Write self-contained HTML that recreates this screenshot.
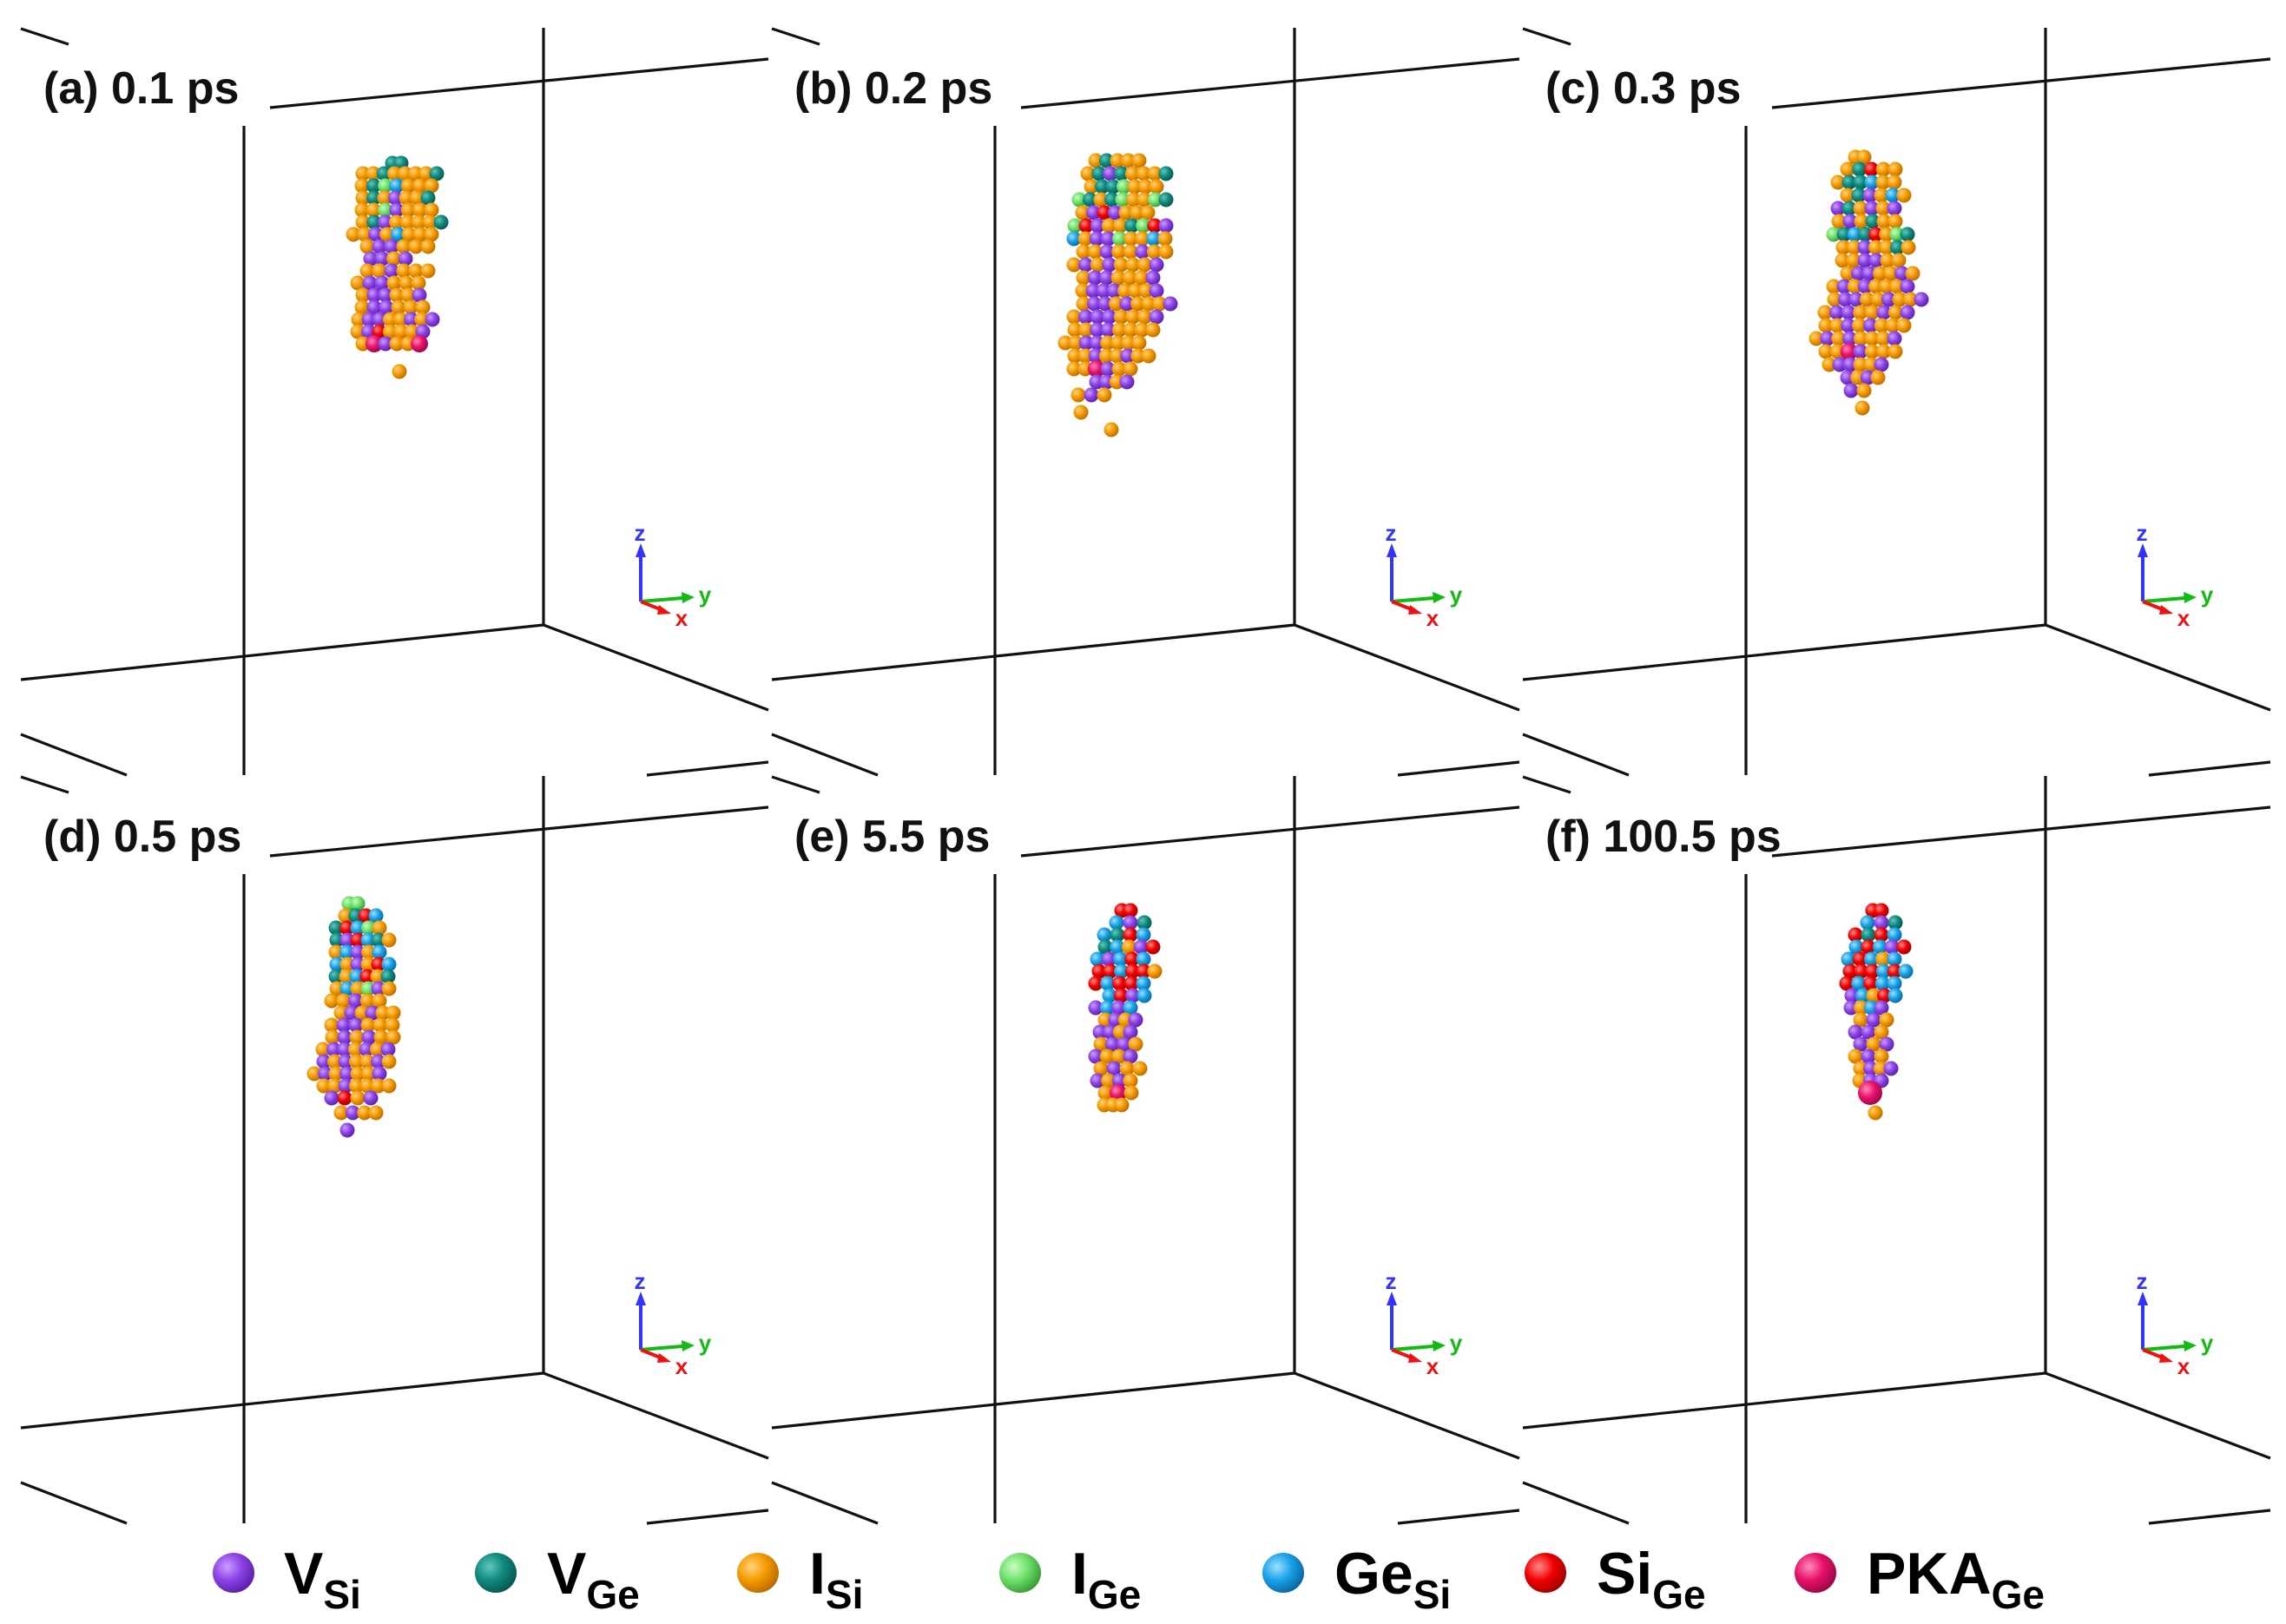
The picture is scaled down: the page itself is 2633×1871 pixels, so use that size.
<!DOCTYPE html>
<html><head><meta charset="utf-8"><style>
html,body{margin:0;padding:0;background:#fff;}
svg{display:block;font-family:"Liberation Sans",Arial,sans-serif;}
</style></head><body>
<svg id="fig" width="2633" height="1871" viewBox="0 0 2633 1871" xmlns="http://www.w3.org/2000/svg">
<defs>
<radialGradient id="gP" cx="35%" cy="35%" r="70%"><stop offset="0" stop-color="#c9a0ff"/><stop offset="0.5" stop-color="#8d42e6"/><stop offset="1" stop-color="#5a1fa8"/></radialGradient>
<radialGradient id="gT" cx="35%" cy="35%" r="70%"><stop offset="0" stop-color="#5fc8bc"/><stop offset="0.5" stop-color="#0f8a7e"/><stop offset="1" stop-color="#06574f"/></radialGradient>
<radialGradient id="gO" cx="35%" cy="35%" r="70%"><stop offset="0" stop-color="#ffd47a"/><stop offset="0.5" stop-color="#f59a00"/><stop offset="1" stop-color="#b86a00"/></radialGradient>
<radialGradient id="gG" cx="35%" cy="35%" r="70%"><stop offset="0" stop-color="#c8ffc0"/><stop offset="0.5" stop-color="#6ee06a"/><stop offset="1" stop-color="#3a9a38"/></radialGradient>
<radialGradient id="gB" cx="35%" cy="35%" r="70%"><stop offset="0" stop-color="#9fe0ff"/><stop offset="0.5" stop-color="#17a3e8"/><stop offset="1" stop-color="#0a66a0"/></radialGradient>
<radialGradient id="gR" cx="35%" cy="35%" r="70%"><stop offset="0" stop-color="#ff8a8a"/><stop offset="0.5" stop-color="#f00000"/><stop offset="1" stop-color="#a00000"/></radialGradient>
<radialGradient id="gK" cx="35%" cy="35%" r="70%"><stop offset="0" stop-color="#ff8ab8"/><stop offset="0.5" stop-color="#e8106a"/><stop offset="1" stop-color="#9a0846"/></radialGradient>
</defs>
<g id="panels"></g>
<g id="legend"></g>
</svg>
<script>
const NS="http://www.w3.org/2000/svg";
const panelLabels=["(a) 0.1 ps","(b) 0.2 ps","(c) 0.3 ps","(d) 0.5 ps","(e) 5.5 ps","(f) 100.5 ps"];
const panelNames=["panel-a","panel-b","panel-c","panel-d","panel-e","panel-f"];
// cluster rows per panel: [y, xLeft, xRight, palette]
const clusterA=[[188,455,465,"T"],[200,415,500,"OOTOO"],[214,420,500,"OTGBOO"],[228,415,490,"OTOPO"],[242,420,500,"OOGPO"],[256,415,505,"OTPOOO"],[270,410,500,"OOPOBO"],[284,420,490,"OPPOO"],[298,430,470,"PPO"],[312,420,490,"OOPOO"],[326,415,485,"OPPOO"],[340,415,480,"OPPO"],[354,420,490,"OPPOO"],[368,410,495,"OPPOOP"],[382,415,490,"OPROO"],[396,415,480,"OKPO"],[428,460,460,"O"]];
const clusterB=[[185,400,450,"OTOO"],[200,385,475,"OTPTOO"],[215,395,470,"OTTGOO"],[230,375,475,"GTOTGOO"],[245,385,460,"OPRPOO"],[260,370,475,"GRPOOT"],[275,375,480,"BOPPGOO"],[290,380,475,"OOPOOP"],[305,375,470,"OPOPOO"],[320,380,460,"OPPOO"],[335,385,470,"OPPPOO"],[350,380,480,"OPPOPOO"],[365,375,470,"OPPPOO"],[380,370,460,"OOPPOO"],[395,365,450,"OOPPOO"],[410,370,455,"OOPOOP"],[425,375,440,"OOKPO"],[440,395,430,"PPO"],[455,380,410,"OP"],[475,380,380,"O"],[495,415,415,"O"]];
const clusterC=[[181,410,420,"OO"],[195,395,450,"OTRO"],[210,390,455,"OTTBOO"],[225,395,460,"OTPOBO"],[240,390,455,"PTOPO"],[255,385,450,"OPOTO"],[270,385,470,"GTBTRO"],[285,390,465,"OOPOOT"],[300,395,460,"OOPPO"],[315,395,470,"OPPOOP"],[330,385,470,"OPOPOO"],[345,380,480,"OPPOOPO"],[360,375,470,"OPPOOP"],[375,370,460,"OOPOPO"],[390,365,455,"OPOPOO"],[405,370,450,"OOKPO"],[420,380,440,"OPPO"],[435,395,430,"PO"],[450,405,420,"PO"],[470,415,420,"OO"]];
const clusterD=[[179,405,415,"G"],[193,395,430,"OTRB"],[207,390,440,"TRBGO"],[221,385,445,"TPRBTO"],[235,390,440,"OBPOB"],[249,385,445,"BOPOR"],[263,390,450,"TOBRO"],[277,385,445,"OBOGP"],[291,385,440,"OOPO"],[305,390,450,"OPOPO"],[319,385,455,"OPPOO"],[333,380,450,"OPOPO"],[347,375,450,"OPPOP"],[361,370,445,"POPOO"],[375,365,440,"OPOPO"],[389,370,445,"OOPOO"],[403,385,430,"PRO"],[420,390,430,"OPO"],[440,400,400,"P"]];
const clusterE=[[187,430,440,"R"],[201,418,450,"BPTP"],[215,410,455,"BTRBO"],[229,405,460,"TBOPR"],[243,402,455,"BPBRB"],[257,398,462,"RRBRRO"],[271,400,455,"RBRRB"],[285,410,450,"BRPBB"],[299,400,440,"PBPB"],[313,405,440,"OPOP"],[327,405,440,"PPOP"],[341,400,440,"OPPO"],[355,400,440,"POOP"],[369,400,445,"OPOO"],[383,402,440,"POPO"],[397,405,435,"OKO"],[411,410,430,"OO"]];
const clusterF=[[187,430,440,"R"],[201,418,450,"BPTB"],[215,410,455,"RTRB"],[229,405,460,"BRBPR"],[243,402,455,"BRBOB"],[257,398,462,"RRRBRB"],[271,400,455,"RBRBB"],[285,400,450,"PBORB"],[299,405,440,"POBP"],[313,410,440,"OPO"],[327,410,440,"PPO"],[341,410,440,"POP"],[355,410,440,"OPO"],[369,410,445,"OPOP"],[383,415,440,"OPP"],[420,430,430,"O"]];
const clusters=[clusterA,clusterB,clusterC,clusterD,clusterE,clusterF];
const pkaF=[424,397];
const colorMap={P:"gP",T:"gT",O:"gO",G:"gG",B:"gB",R:"gR",K:"gK"};
const legendLabels=[["V","Si"],["V","Ge"],["I","Si"],["I","Ge"],["Ge","Si"],["Si","Ge"],["PKA","Ge"]];
const legendColors=["gP","gT","gO","gG","gB","gR","gK"];

function el(tag,attrs,parent){const e=document.createElementNS(NS,tag);for(const k in attrs)e.setAttribute(k,attrs[k]);parent.appendChild(e);return e;}
const root=document.getElementById('panels');
const offsets=[[0,0],[865,0],[1730,0],[0,862],[865,862],[1730,862]];
for(let i=0;i<6;i++){
  const [ox,oy]=offsets[i];
  const g=el('g',{transform:`translate(${ox},${oy})`},root);
  
  
  const box=el('g',{stroke:'#111','stroke-width':3.2,fill:'none','stroke-linecap':'butt'},g);
  
  
  const lines=[[24,33,79,51],[311,124,885,68],[281,145,281,893],[626,32,626,720],[24,783,626,720],[626,720,885,818],[24,846,146,893],[745,893,885,878]];
  lines.forEach(l=>el('line',{x1:l[0],y1:l[1],x2:l[2],y2:l[3]},box));
  const t=el('text',{x:50,y:119,'font-size':52,'font-weight':'bold',fill:'#111'},g);
  t.textContent=panelLabels[i];
  
  
  // atoms
  const cg=el('g',{},g);
  
  
  clusters[i].forEach((row,ri)=>{
    const [y,xl,xr,pal]=row;
    const n=Math.max(1,Math.round((xr-xl)/13)+1);
    for(let k=0;k<n;k++){
      const x=n===1?xl:xl+(xr-xl)*k/(n-1)+((ri%2)?3:-3);
      const c=pal[k%pal.length];
      const a=el('circle',{cx:x,cy:y,r:c==='K'?10:8.5,fill:`url(#${colorMap[c]})`},cg);
      
      
    }
  });
  if(i===5){const k=el('circle',{cx:pkaF[0],cy:pkaF[1],r:14,fill:'url(#gK)'},cg);
    
    }
  // axis triad
  const ax=el('g',{'stroke-width':4},g);
  
  
  el('line',{x1:738,y1:693,x2:738,y2:640,stroke:'#3333ff'},ax);
  el('polygon',{points:'738,626 732,642 744,642',fill:'#3333ff'},ax);
  el('line',{x1:738,y1:693,x2:786,y2:689,stroke:'#11bb11'},ax);
  el('polygon',{points:'800,688 785,682 786,695',fill:'#11bb11'},ax);
  el('line',{x1:738,y1:693,x2:763,y2:703,stroke:'#ee1111'},ax);
  el('polygon',{points:'773,707 759,697 757,708',fill:'#ee1111'},ax);
  [['z',737,623,'#3333ff'],['y',812,694,'#11bb11'],['x',785,721,'#ee1111']].forEach(d=>{
    const tt=el('text',{x:d[1],y:d[2],'font-size':26,'font-weight':'bold',fill:d[3],'text-anchor':'middle'},ax);
    tt.textContent=d[0];
  });
}
const lg=document.getElementById('legend');
const lcx=[269,571,873,1175,1478,1780,2091];
const ltx=[327,630,932,1234,1537,1839,2150];
for(let i=0;i<7;i++){
  const item=el('g',{},lg);
  
  
  el('ellipse',{cx:lcx[i],cy:1812,rx:24,ry:23,fill:`url(#${legendColors[i]})`},item);
  const t=el('text',{x:ltx[i],y:1836,'font-size':68,'font-weight':'bold',fill:'#000'},item);
  t.textContent=legendLabels[i][0];
  const s=el('tspan',{'font-size':46,dy:17},t);
  s.textContent=legendLabels[i][1];
}
</script>
</body></html>
